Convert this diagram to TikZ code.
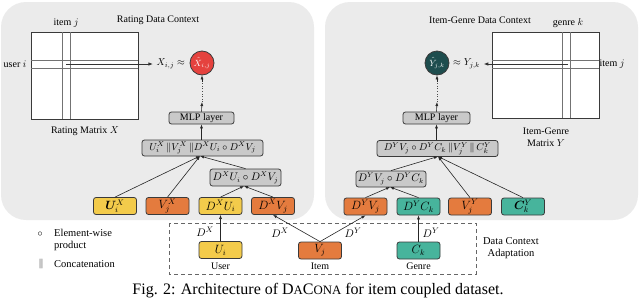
\documentclass[tikz,border=0pt]{standalone}
\usepackage{fontspec}
\setmainfont{Liberation Serif}
\usepackage{amsmath,bm}
\usetikzlibrary{arrows.meta}
\definecolor{panelgray}{HTML}{EBEBEB}
\definecolor{boxgray}{HTML}{C9C9C9}
\definecolor{yel}{HTML}{F3CB4B}
\definecolor{org}{HTML}{E47B3E}
\definecolor{tea}{HTML}{47B49C}
\definecolor{redc}{HTML}{E5423E}
\definecolor{darkteal}{HTML}{1E4D4E}
\definecolor{edge}{HTML}{3A3A3A}
\begin{document}
\begin{tikzpicture}[x=1pt,y=-1pt,
  lbl/.style={font=\fontsize{10}{12}\selectfont, inner sep=0pt},
  box/.style={draw=edge, rounded corners=2.5pt, line width=0.8pt, inner sep=0pt, font=\fontsize{10}{12}\selectfont},
  emb/.style={box, minimum width=43pt, minimum height=17pt, font=\fontsize{11.5}{13}\selectfont},
  gbox/.style={box, fill=boxgray},
  arr/.style={-{Latex[length=4pt,width=3pt]}, line width=0.6pt, black!85},
  circ/.style={circle, draw=edge, line width=0.8pt, minimum size=24pt, inner sep=0pt, font=\fontsize{9}{10}\selectfont, text=white},
  mline/.style={draw=edge, line width=0.9pt},
  strip/.style={draw=black!55, line width=0.4pt},
]
\useasboundingbox (0,0) rectangle (640,300);
% panels
\fill[panelgray, rounded corners=25pt] (1,2) rectangle (314,220);
\fill[panelgray, rounded corners=25pt] (325,2) rectangle (638,220);

% ---------- left panel ----------
\node[lbl] (titleX) at (158,20) {Rating Data Context};
\filldraw[fill=white, mline] (31,32) rectangle (138,119);
\draw[strip] (62.5,32) -- (62.5,119) (70.5,32) -- (70.5,119);
\draw[strip] (31,60) -- (138,60) (31,68) -- (138,68);
\node[lbl] (itemj) at (66,23) {item $j$};
\node[lbl] (useri) at (15,64) {user $i$};
\node[lbl] (matXlbl) at (85,131) {Rating Matrix $X$};
\coordinate (xs) at (66,64);
\node[lbl, anchor=east] (xij) at (185,64) {$X_{i,j}\approx$};
\draw[-{Latex[length=5pt,width=3.5pt]}, line width=1pt, black!80] (xs) -- ([xshift=-3pt]xij.west);
\node[circ, fill=redc] (cX) at (202,63) {$\hat{X}_{i,j}$};
\node[gbox, minimum width=65pt, minimum height=12pt] (mlpX) at (201.5,118) {MLP layer};
\coordinate (mX1) at (202,102);
\coordinate (mX2) at (202,82);
\draw[arr] (mlpX.north) -- (mX1);
\draw[dotted, line width=0.6pt, black!70] (mX1) -- (mX2);
\draw[arr] (mX2) -- (cX.south);
\node[gbox, minimum width=121pt, minimum height=16pt] (catX) at (202.5,148) {$U_i^X\,\|V_j^X\,\|D^X U_i\circ D^X V_j$};
\node[gbox, minimum width=71pt, minimum height=17pt, font=\fontsize{10.5}{12}\selectfont] (prodX) at (245.5,177.5) {$D^X U_i\circ D^X V_j$};
\draw[arr] (catX.north -| mlpX) -- (mlpX.south);
\node[emb, fill=yel] (uix) at (115,206) {$\bm{U}_i^X$};
\node[emb, fill=org] (vjx) at (167.5,206) {$V_j^X$};
\node[emb, fill=yel] (dxu) at (220.5,206) {$D^X U_i$};
\node[emb, fill=org] (dxv) at (273,206) {$D^X V_j$};
\coordinate (inX) at (200,156);
\coordinate (inPX) at (244,186);
\draw[arr] (uix.north) -- (inX);
\draw[arr] (vjx.north) -- (inX);
\draw[arr] (prodX.north) -- (inX);
\draw[arr] (dxu.north) -- (inPX);
\draw[arr] (dxv.north) -- (inPX);

% ---------- right panel ----------
\node[lbl] (titleY) at (480,20) {Item-Genre Data Context};
\filldraw[fill=white, mline] (492,32) rectangle (599,118);
\draw[strip] (562.5,32) -- (562.5,118) (570.5,32) -- (570.5,118);
\draw[strip] (492,60) -- (599,60) (492,68) -- (599,68);
\node[lbl] (genrek) at (568,23) {genre $k$};
\node[lbl] (itemjY) at (612,64) {item $j$};
\node[lbl, align=center] (matYlbl) at (546,137) {Item-Genre\\Matrix $Y$};
\coordinate (ys) at (568,64);
\node[lbl, anchor=west] (yjk) at (453,64) {$\approx Y_{j,k}$};
\draw[-{Latex[length=5pt,width=3.5pt]}, line width=1pt, black!80] (ys) -- ([xshift=3pt]yjk.east);
\node[circ, fill=darkteal] (cY) at (437,63) {$\hat{Y}_{j,k}$};
\node[gbox, minimum width=67pt, minimum height=12pt] (mlpY) at (436.5,118) {MLP layer};
\coordinate (mY1) at (437,102);
\coordinate (mY2) at (437,82);
\draw[arr] (mlpY.north) -- (mY1);
\draw[dotted, line width=0.6pt, black!70] (mY1) -- (mY2);
\draw[arr] (mY2) -- (cY.south);
\node[gbox, minimum width=121pt, minimum height=16pt] (catY) at (437.5,148.5) {$D^Y V_j\circ D^Y C_k\,\|V_j^Y\,\|\,C_k^Y$};
\node[gbox, minimum width=70pt, minimum height=16pt, font=\fontsize{10.5}{12}\selectfont] (prodY) at (391,179) {$D^Y V_j\circ D^Y C_k$};
\draw[arr] (catY.north -| mlpY) -- (mlpY.south);
\node[emb, fill=org] (dyv) at (365.5,206.5) {$D^Y V_j$};
\node[emb, fill=tea] (dyc) at (418.5,206.5) {$D^Y C_k$};
\node[emb, fill=org] (vjy) at (470,206.5) {$V_j^Y$};
\node[emb, fill=tea] (cky) at (523,206.5) {$\bm{C}_k^Y$};
\coordinate (inY) at (438,156.5);
\coordinate (inPY) at (390,187);
\draw[arr] (prodY.north) -- (inY);
\draw[arr] (vjy.north) -- (inY);
\draw[arr] (cky.north) -- (inY);
\draw[arr] (dyv.north) -- (inPY);
\draw[arr] (dyc.north) -- (inPY);

% ---------- adaptation ----------
\draw[draw=black!60, line width=1pt, dash pattern=on 4pt off 3pt] (169,223) rectangle (476,274);
\node[emb, fill=yel] (ui) at (220.5,250) {$U_i$};
\node[emb, fill=org] (vj) at (320,250.5) {$V_j$};
\node[emb, fill=tea] (ck) at (418.5,250.5) {$C_k$};
\node[lbl] (user) at (220.5,266.5) {User};
\node[lbl] (item) at (320,266.5) {Item};
\node[lbl] (genre) at (418.5,266.5) {Genre};
\draw[arr] (ui.north) -- (dxu.south);
\draw[arr] (vj.north) -- (dxv.south);
\draw[arr] (vj.north) -- (dyv.south);
\draw[arr] (ck.north) -- (dyc.south);
\node[lbl, font=\fontsize{11}{12}\selectfont] (l1) at (205,232) {$D^X$};
\node[lbl, font=\fontsize{11}{12}\selectfont] (l2) at (280,233) {$D^X$};
\node[lbl, font=\fontsize{11}{12}\selectfont] (l3) at (353,233) {$D^Y$};
\node[lbl, font=\fontsize{11}{12}\selectfont] (l4) at (431,233) {$D^Y$};
\node[lbl, align=center, font=\fontsize{10.5}{12.5}\selectfont] (dca) at (511,248) {Data Context\\Adaptation};

% ---------- legend ----------
\node[lbl] (lg1s) at (40,234) {$\circ$};
\node[lbl, anchor=west, align=left, font=\fontsize{10.5}{12.5}\selectfont] (lg1) at (54,240) {Element-wise\\product};
\node[lbl] (lg2s) at (41,264) {$\|$};
\node[lbl, anchor=west, font=\fontsize{10.5}{12}\selectfont] (lg2) at (54,264) {Concatenation};

% ---------- caption ----------
\node[font=\fontsize{16}{18}\selectfont, inner sep=0pt] (cap) at (318,291) {Fig. 2: Architecture of D{\fontsize{12.8}{15}\selectfont A}C{\fontsize{12.8}{15}\selectfont ONA} for item coupled dataset.};
\end{tikzpicture}
\end{document}
